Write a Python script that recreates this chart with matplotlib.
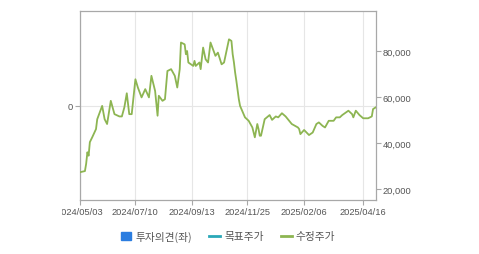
import numpy as np
import matplotlib
matplotlib.use("Agg")
import matplotlib.pyplot as plt
from matplotlib.lines import Line2D
from matplotlib.patches import Patch
from matplotlib.transforms import Bbox

plt.rcParams['font.family'] = ['Liberation Sans', 'Noto Sans CJK KR', 'DejaVu Sans']

# ── data ────────────────────────────────────────────────────────
dates = [
    "2024-05-03", "2024-05-10", "2024-05-13", "2024-05-14", "2024-05-16",
    "2024-05-17", "2024-05-21", "2024-05-24", "2024-05-27", "2024-05-31",
    "2024-06-04", "2024-06-07", "2024-06-12", "2024-06-17", "2024-06-21",
    "2024-06-25", "2024-06-27", "2024-07-01", "2024-07-03", "2024-07-05",
    "2024-07-10", "2024-07-12", "2024-07-17", "2024-07-22", "2024-07-25",
    "2024-07-29", "2024-08-01", "2024-08-05", "2024-08-06", "2024-08-09",
    "2024-08-13", "2024-08-16", "2024-08-21", "2024-08-26", "2024-08-28",
    "2024-08-30", "2024-09-02", "2024-09-05", "2024-09-06", "2024-09-09",
    "2024-09-10", "2024-09-19", "2024-09-20", "2024-09-23", "2024-09-26",
    "2024-09-27", "2024-10-02", "2024-10-07", "2024-10-10", "2024-10-14",
    "2024-10-18", "2024-10-22", "2024-10-25", "2024-10-29", "2024-11-04",
    "2024-11-06", "2024-11-07", "2024-11-08", "2024-11-11", "2024-11-12",
    "2024-11-14", "2024-11-15", "2024-11-21", "2024-11-26", "2024-11-29",
    "2024-12-03", "2024-12-05", "2024-12-06", "2024-12-09", "2024-12-10",
    "2024-12-13", "2024-12-19", "2024-12-23", "2024-12-27", "2025-01-02",
    "2025-01-07", "2025-01-10", "2025-01-17", "2025-01-24", "2025-01-31",
    "2025-02-03", "2025-02-06", "2025-02-12", "2025-02-17", "2025-02-20",
    "2025-02-24", "2025-02-27", "2025-03-04", "2025-03-07", "2025-03-13",
    "2025-03-17", "2025-03-20", "2025-03-24", "2025-03-31", "2025-04-03",
    "2025-04-04", "2025-04-08", "2025-04-11", "2025-04-16", "2025-04-22",
    "2025-04-25", "2025-04-28", "2025-04-30",
]
prices = [
    27300, 27800, 31000, 36000, 34500,
    40400, 42600, 46100, 50400, 56200,
    50400, 48300, 58400, 52600, 51600,
    51600, 55500, 61700, 52600, 52600,
    67800, 64200, 59900, 63500, 59900,
    69300, 62700, 51900, 60600, 58400,
    59100, 71400, 72200, 69300, 64200,
    72200, 83800, 83000, 78700, 80100,
    75100, 73600, 75800, 73600, 75100,
    72200, 81600, 76500, 75100, 83800,
    78000, 79400, 74300, 75100, 85200,
    84500, 78700, 75200, 70700, 67100,
    59100, 56200, 51200, 49700, 46800,
    42500, 48300, 46100, 43200, 43200,
    50400, 52200, 50100, 51600, 51200,
    53000, 51600, 48300, 46800, 46100,
    43900, 45700, 43500, 44600, 48300,
    49000, 47500, 46800, 49700, 49700,
    51200, 51200, 52200, 54100, 52600,
    51200, 54100, 52200, 50800, 50800,
    51600, 54800, 55500,
]
tick_dates = ["2024-05-03", "2024-07-10", "2024-09-13", "2024-11-25",
              "2025-02-06", "2025-04-16"]
tick_labels = ["2024/05/03", "2024/07/10", "2024/09/13", "2024/11/25",
               "2025/02/06", "2025/04/16"]
price_ticks = [20000, 40000, 60000, 80000]
# exchange holidays, so the x axis runs on trading days
holidays = ["2024-05-06", "2024-05-15", "2024-06-06", "2024-08-15",
            "2024-09-16", "2024-09-17", "2024-09-18", "2024-10-01",
            "2024-10-03", "2024-10-09", "2024-12-25", "2024-12-31",
            "2025-01-01", "2025-01-27", "2025-01-28", "2025-01-29",
            "2025-01-30", "2025-03-03"]

start = dates[0]
x = np.busday_count(start, np.array(dates, dtype="datetime64[D]"), holidays=holidays)
xt = np.busday_count(start, np.array(tick_dates, dtype="datetime64[D]"), holidays=holidays)

COL_PRICE = "#8db552"
COL_TARGET = "#2aa8b8"
COL_OPINION = "#2b7de0"
COL_SPINE = "#a8a8a8"
COL_GRID = "#e6e6e6"
COL_TEXT = "#555555"

fig = plt.figure(figsize=(4.79, 2.55), dpi=100)
ax = fig.add_axes([80 / 479, 1 - 201 / 255, 295.5 / 479, 188.7 / 255])
ax2 = ax.twinx()

# left axis (opinion) – only the 0 line
ax.set_ylim(-1, 1)
ax.set_yticks([0])
ax.set_yticklabels(["0"])
ax.set_xlim(x[0], x[-1])
ax.set_xticks(xt)
ax.set_xticklabels(tick_labels)
ax.grid(True, color=COL_GRID, lw=0.8)
ax.set_axisbelow(True)

ax2.plot(x, prices, color=COL_PRICE, lw=1.3, zorder=3)
ax2.set_ylim(15200, 97400)
ax2.set_yticks(price_ticks)
ax2.set_yticklabels([f"{v:,}" for v in price_ticks])

for a in (ax, ax2):
    for s in a.spines.values():
        s.set_color(COL_SPINE)
        s.set_linewidth(0.9)
    a.tick_params(colors=COL_SPINE, labelcolor=COL_TEXT, labelsize=6.7,
                  length=3.5, width=0.8, pad=1.5)
for side in ("left", "top", "bottom"):
    ax2.spines[side].set_visible(False)
ax.spines["right"].set_visible(False)

# first date label is cut off on the left in the original
fig.canvas.draw()
lab0 = ax.get_xticklabels()[0]
lab0.set_clip_box(Bbox.from_extents(61.8, 0, 479, 255))
lab0.set_clip_on(True)

handles = [
    Patch(facecolor=COL_OPINION, edgecolor=COL_OPINION),
    Line2D([], [], color=COL_TARGET, lw=2),
    Line2D([], [], color=COL_PRICE, lw=2),
]
fig.legend(handles, ["투자의견(좌)", "목표주가", "수정주가"],
           loc="center", bbox_to_anchor=(228 / 479, 1 - 237 / 255), ncol=3,
           frameon=False, handlelength=1.0, handleheight=0.8,
           handletextpad=0.4, columnspacing=1.6, labelcolor=COL_TEXT,
           prop={'family': ['Noto Sans CJK KR', 'DejaVu Sans'], 'size': 7.7})

fig.savefig("out.png", dpi=100, facecolor="white")
